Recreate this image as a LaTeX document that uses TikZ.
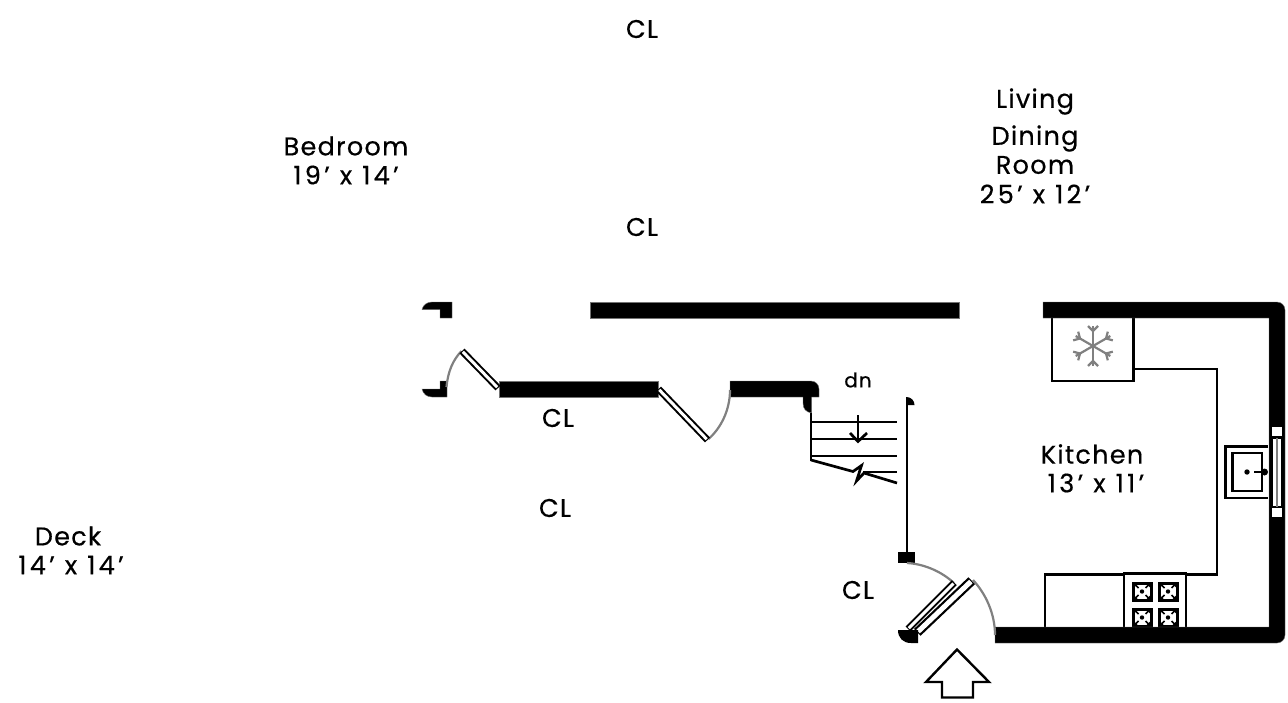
\documentclass[tikz,border=0pt]{standalone}
\usepackage{fontspec}
\setmainfont[LetterSpace=5,FakeBold=0.5]{Poppins}
\newfontfamily\dimfont[LetterSpace=13,FakeBold=0.5]{Poppins}
\tikzset{
  wall/.style={fill=black,draw=black!55,line width=0.4pt},
  thinl/.style={draw=black,line width=2.2pt,line cap=butt,line join=miter},
  thickl/.style={draw=black,line width=2.7pt,line cap=butt},
  swing/.style={draw=black!50,line width=2.2pt},
  label/.style={font=\fontsize{25.5}{25.5}\selectfont,inner sep=0pt,anchor=center},
  dimlabel/.style={font=\dimfont\fontsize{25.5}{25.5}\selectfont,inner sep=0pt,anchor=center},
  flake/.style={draw=black!50,line width=2.2pt},
  burnerbox/.style={draw=black,line width=3pt,fill=white},
}
\newcommand{\doorleaf}[4]{%
  \draw[black,line width=#3pt] #1 -- #2;
  \draw[white,line width=#4pt,shorten >=1.2pt,shorten <=1.2pt] #1 -- #2;
}
\newcommand{\burnerat}[2]{%
  \begin{scope}[shift={(#1,#2)}]
    \draw[burnerbox] (-9,-8.5) rectangle (9,8.5);
    \fill[black] (0,0) circle (2.2);
    \foreach \sx/\sy in {1/1,1/-1,-1/1,-1/-1}{
      \draw[black,line width=1.6pt] (\sx*3.5,\sy*3.5) -- (\sx*8,\sy*8);
      \fill[black] (\sx*8.5,\sy*8.5) -- (\sx*3.5,\sy*8.5) -- (\sx*8.5,\sy*3.5) -- cycle;
    }
  \end{scope}
}
\begin{document}
\begin{tikzpicture}[x=1pt,y=-1pt]
\useasboundingbox (0,0) rectangle (1288,702);
\fill[white] (0,0) rectangle (1288,702);

% kitchen fixtures
\draw[thinl] (1134,369) -- (1217,369) -- (1217,574.5) -- (1186,574.5);
\draw[thinl] (1124,574.5) -- (1045,574.5) -- (1045,628);
\draw[thinl] (1124,628) -- (1124,573.5) -- (1186,573.5) -- (1186,628);
\burnerat{1142}{591.5}
\burnerat{1168}{591.5}
\burnerat{1142}{617.5}
\burnerat{1168}{617.5}
\draw[thinl] (1052,318) -- (1052,381) -- (1133,381);
\draw[black,line width=3pt] (1133,318) -- (1133,382);

% snowflake
\begin{scope}[shift={(1093,346)}]
  \foreach \a in {90,150,210,270,330,30}{
    \begin{scope}[rotate=\a]
      \draw[flake] (0,0) -- (20,0);
      \draw[flake] (15,0) -- (20,-5);
      \draw[flake] (15,0) -- (20,5);
    \end{scope}
  }
\end{scope}

% walls
\path[wall] (590,302) rectangle (959,318);
\path[wall] (1043,302) -- (1277,302) arc[start angle=-90,end angle=0,radius=8] -- (1285,635)
  arc[start angle=0,end angle=90,radius=8] -- (995,643) -- (995,627) -- (1269,627) -- (1269,318) -- (1043,318) -- cycle;
\path[wall] (499,381) rectangle (658,397);
\path[wall] (730,381) -- (811,381) arc[start angle=-90,end angle=0,radius=8] -- (819,397) -- (811.5,397) -- (811.5,413)
  .. controls (806,412) and (803,409) .. (803,403) -- (803,397) -- (730,397) -- cycle;
\path[wall] (452,302) -- (432,302) .. controls (427,302) and (423,305) .. (422,309.5) -- (440,309.5) -- (440,318) -- (452,318) -- cycle;
\path[wall] (447,397) -- (432,397) .. controls (427,397) and (423,394) .. (422,389) -- (440,389) -- (440,381) -- (447,381) -- cycle;

% window
\fill[white] (1272,427) rectangle (1282,436);
\fill[white] (1272,508) rectangle (1282,517);
\draw[black,line width=1.2pt,fill=white] (1272.5,438) rectangle (1281.5,507);
\draw[black!50,line width=2pt] (1277,438) -- (1277,507);

% sink
\draw[thinl,fill=white] (1268,446.5) -- (1225.5,446.5) -- (1225.5,498) -- (1268,498);
\draw[thinl,line width=2.4pt,fill=white] (1232.5,453) rectangle (1262,491);
\fill[black] (1247,472) circle (2.7);
\draw[black,line width=2pt] (1254,472) -- (1264,472);
\fill[black] (1264.5,472) circle (3.5);

% doors, upper run
\draw[swing] (446.5,387) .. controls (448,371) and (453,360) .. (461.5,351);
\doorleaf{(498,388)}{(462,351)}{7}{3}
\draw[swing] (708.5,439) .. controls (721,428) and (730,410) .. (730,390);
\doorleaf{(658.5,389)}{(707.5,440)}{7}{3}

% stairs
\draw[thickl] (811,413) -- (811,461);
\foreach \yy in {422,439,456}{ \draw[thickl] (811,\yy) -- (897,\yy); }
\draw[thickl] (863,472) -- (897,472);
\draw[thickl,line join=miter] (811,460) -- (853,471.5) -- (861.5,465.5) -- (856.5,481) -- (864,473) -- (897,483);
\draw[thickl] (858,415) -- (858,441);
\draw[thickl] (850,433) -- (858,441.5) -- (867,433);

% stair side wall
\draw[black,line width=2.7pt] (907,405) -- (907,553);
\fill[black] (906,405) -- (914.5,405) arc[start angle=0,end angle=-90,radius=8] -- (906,397) -- cycle;
\fill[black] (898,552) rectangle (915,563);

% entry double door
\draw[swing] (907,563) .. controls (925,564) and (942,572) .. (954,583);
\draw[swing] (973,580) .. controls (986,594) and (995,614) .. (995,635);
\doorleaf{(908,629)}{(954.3,582.7)}{7}{3}
\doorleaf{(917.3,632.3)}{(971.7,580.7)}{9.5}{5}
\fill[black] (898,630) -- (918,630) -- (918,643) -- (911,643) .. controls (903,643) and (898,638) .. (898,630) -- cycle;

% entry arrow
\draw[black,line width=2.4pt,line join=miter] (957,649.5) -- (926,682) -- (942,682) -- (942,697.5) -- (973,697.5) -- (973,682) -- (989,682) -- cycle;

% labels
\node[label] (cltop) at (642,29) {CL};
\node[label] (living) at (1035,101.5) {Living};
\node[label] (dining) at (1035,138.5) {Dining};
\node[label] (room) at (1035,165) {Room};
\node[dimlabel] (lrdim) at (1035,194) {25’ x 12’};
\node[label] (bedroom) at (346,146) {Bedroom};
\node[dimlabel] (beddim) at (346,175) {19’ x 14’};
\node[label] (clmid) at (642,227) {CL};
\node[label] (clhall) at (558,418) {CL};
\node[label] (cllow) at (555,508) {CL};
\node[label] (deck) at (68,536) {Deck};
\node[dimlabel] (deckdim) at (71,565) {14’ x 14’};
\node[label,font=\fontsize{20}{20}\selectfont] (dn) at (858,380) {dn};
\node[label] (kitchen) at (1092,454) {Kitchen};
\node[dimlabel] (kitdim) at (1096,483) {13’ x 11’};
\node[label] (clentry) at (858,590) {CL};
\end{tikzpicture}
\end{document}
